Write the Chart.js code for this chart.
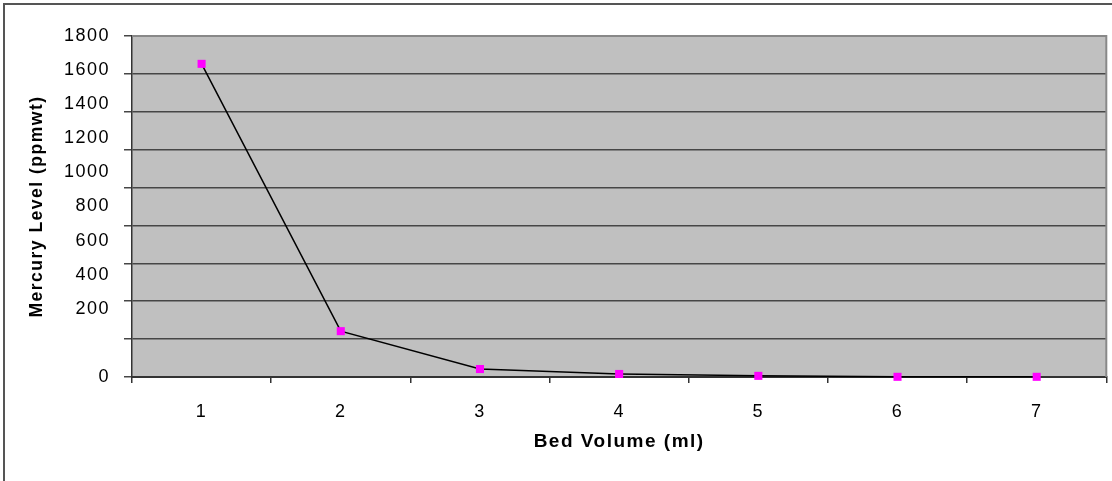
<!DOCTYPE html>
<html>
<head>
<meta charset="utf-8">
<script src="https://cdn.jsdelivr.net/npm/chart.js@4.4.1/dist/chart.umd.min.js"></script>
<style>
  html, body { margin: 0; padding: 0; background: #fff; overflow: hidden; }
  #wrap { position: absolute; left: 0; top: 0; width: 1112px; height: 481px; }
  #frame { position: absolute; left: 3px; top: 3px; width: 1200px; height: 600px;
           border-top: 2px solid #555; border-left: 2px solid #555; pointer-events: none; }
</style>
</head>
<body>
<div id="wrap"><canvas id="c" width="1112" height="481"></canvas></div>
<div id="frame"></div>
<script>
const categories = ['1', '2', '3', '4', '5', '6', '7'];
const mercuryLevel = [1653, 242, 42, 16, 6, 1, 1];
const yTickLabels = ['1800', '1600', '1400', '1200', '1000', '800', '600', '400', '200', '', '0'];
const xTitle = 'Bed Volume (ml)';
const yTitle = 'Mercury Level (ppmwt)';

const FONT = '"Liberation Sans", Arial, sans-serif';

const plotBg = {
  id: 'plotBg',
  beforeDraw(chart) {
    const {ctx, chartArea: a} = chart;
    ctx.letterSpacing = '1.5px';
    ctx.save();
    ctx.fillStyle = '#c0c0c0';
    ctx.fillRect(a.left, a.top, a.right - a.left, a.bottom - a.top);
    ctx.restore();
  },
  afterDraw(chart) {
    const {ctx, chartArea: a} = chart;
    ctx.save();
    ctx.strokeStyle = '#888';
    ctx.lineWidth = 2;
    ctx.beginPath();
    ctx.moveTo(a.left, a.top);
    ctx.lineTo(a.right, a.top);
    ctx.lineTo(a.right, a.bottom);
    ctx.stroke();
    ctx.restore();
    ctx.letterSpacing = '0px';
  }
};

new Chart(document.getElementById('c'), {
  type: 'line',
  data: {
    labels: categories,
    datasets: [{
      data: mercuryLevel,
      borderColor: '#000',
      borderWidth: 1.5,
      tension: 0,
      fill: false,
      pointStyle: 'rect',
      pointRadius: 5.7,
      pointHoverRadius: 5.7,
      pointBackgroundColor: '#ff00ff',
      pointBorderWidth: 0,
      clip: false
    }]
  },
  options: {
    responsive: false,
    animation: false,
    devicePixelRatio: 1,
    layout: { padding: { left: 0, top: 36, right: 4, bottom: 0 } },
    plugins: { legend: { display: false }, tooltip: { enabled: false } },
    scales: {
      x: {
        type: 'category',
        offset: true,
        grid: { display: true, offset: true, drawOnChartArea: false, drawTicks: true, tickLength: 6, color: '#333', lineWidth: 1.5 },
        border: { display: true, color: '#333', width: 2 },
        ticks: { color: '#000', font: { family: FONT, size: 18 }, padding: 18, maxRotation: 0, autoSkip: false },
        title: { display: true, text: xTitle, color: '#000', font: { family: FONT, size: 19, weight: 'bold' }, padding: { top: 0, bottom: 28 } },
        afterFit(s) { s.height = 104; }
      },
      y: {
        type: 'linear',
        position: 'left',
        min: 0,
        max: 1800,
        weight: 0,
        grid: { display: true, drawOnChartArea: true, drawTicks: true, tickLength: 8, color: '#464646', lineWidth: 1.5 },
        border: { display: true, color: '#333', width: 1.5 },
        ticks: { display: false, stepSize: 200 },
        afterFit(s) { s.width = 8; }
      },
      yl: {
        type: 'category',
        position: 'left',
        labels: yTickLabels,
        offset: false,
        weight: 1,
        grid: { display: false, drawTicks: false },
        border: { display: false },
        ticks: { color: '#000', font: { family: FONT, size: 18 }, padding: 14, autoSkip: false },
        title: { display: true, text: yTitle, color: '#000', font: { family: FONT, size: 17.5, weight: 'bold' }, padding: { top: 27, bottom: 0 } },
        afterFit(s) { s.width = 124; }
      }
    }
  },
  plugins: [plotBg]
});
</script>
</body>
</html>
